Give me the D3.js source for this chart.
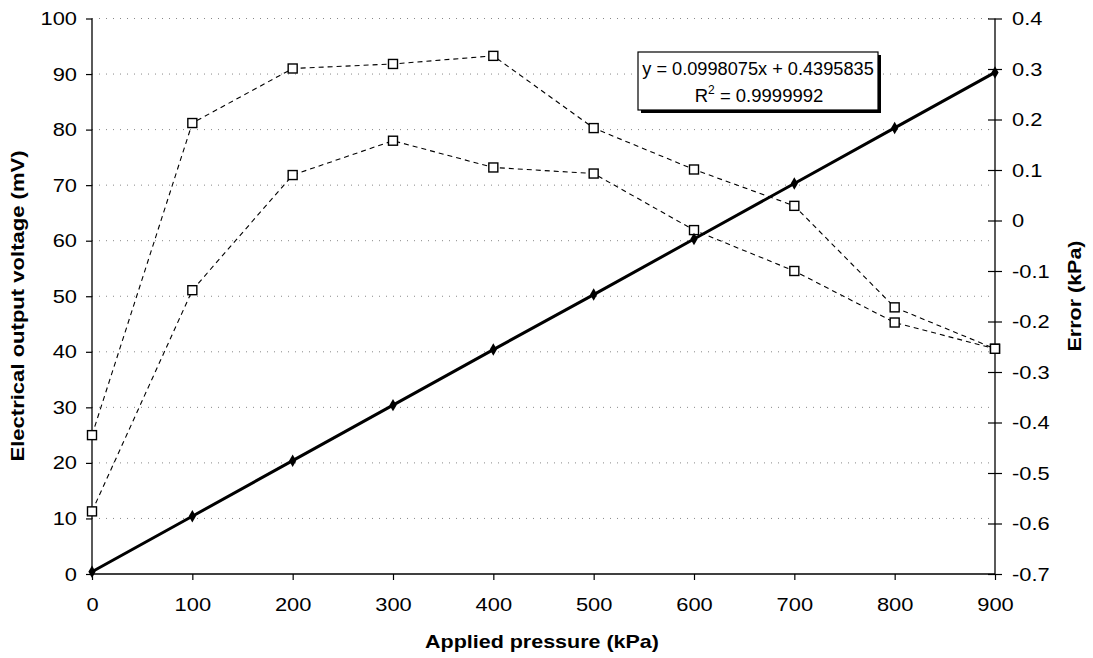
<!DOCTYPE html>
<html>
<head>
<meta charset="utf-8">
<script src="https://cdn.jsdelivr.net/npm/d3@7"></script>
<style>
  body { margin: 0; background: #fff; }
  text { font-family: "Liberation Sans", Arial, sans-serif; fill: #000; }
</style>
</head>
<body>
<svg id="chart" width="1093" height="658"></svg>
<script>
// pressure steps (kPa)
var pressure = [0, 100, 200, 300, 400, 500, 600, 700, 800, 900];
// output voltage (mV), left axis
var voltage = [0.4, 10.4, 20.4, 30.4, 40.4, 50.3, 60.3, 70.3, 80.3, 90.3];
// error series (kPa), right axis
var errorA = [-0.425, 0.193, 0.301, 0.310, 0.326, 0.183, 0.101, 0.029, -0.172, -0.254];
var errorB = [-0.576, -0.138, 0.090, 0.158, 0.105, 0.093, -0.019, -0.100, -0.202, -0.254];

var xTicks = [0, 100, 200, 300, 400, 500, 600, 700, 800, 900];
var yTicks = [0, 10, 20, 30, 40, 50, 60, 70, 80, 90, 100];
var y2Ticks = [0.4, 0.3, 0.2, 0.1, 0, -0.1, -0.2, -0.3, -0.4, -0.5, -0.6, -0.7];

var fitLabel = "y = 0.0998075x + 0.4395835";
var r2Label = "0.9999992";

// the original lettering is a bit wider than Liberation Sans, stretch it
function stretch(sel, k) {
    sel.each(function() {
        var w = this.getComputedTextLength();
        d3.select(this).attr("textLength", w * k).attr("lengthAdjust", "spacingAndGlyphs");
    });
}

!function() {
    var svg = d3.select("#chart");
    var pLeft = 92, pRight = 995, pTop = 18.5, pBottom = 574;

    var fx = d3.scaleLinear().domain([0, 900]).range([pLeft, pRight]);
    var fy = d3.scaleLinear().domain([0, 100]).range([pBottom, pTop]);
    var fy2 = d3.scaleLinear().domain([-0.7, 0.4]).range([pBottom, pTop]);

    // gridlines
    svg.append("g").selectAll("line")
        .data(yTicks.filter(function(d) { return d > 0; })).enter()
        .append("line")
          .attr("x1", pLeft).attr("x2", pRight)
          .attr("y1", function(d) { return fy(d); })
          .attr("y2", function(d) { return fy(d); })
          .attr("stroke", "#888")
          .attr("stroke-width", 1)
          .attr("stroke-dasharray", "1,6");

    // axes
    var xAxis = svg.append("g")
        .attr("transform", "translate(0," + pBottom + ")")
        .call(d3.axisBottom(fx).tickValues(xTicks).tickSize(6).tickPadding(18).tickFormat(d3.format("d")));
    var yAxis = svg.append("g")
        .attr("transform", "translate(" + pLeft + ",0)")
        .call(d3.axisLeft(fy).tickValues(yTicks).tickSize(6).tickPadding(9).tickFormat(d3.format("d")));
    var y2Axis = svg.append("g")
        .attr("transform", "translate(" + pRight + ",0)")
        .call(d3.axisRight(fy2).tickValues(y2Ticks).tickSize(7).tickPadding(10)
              .tickFormat(function(d) { return Math.abs(d) < 1e-9 ? "0" : d.toFixed(1); }));
    y2Axis.selectAll(".tick line").attr("x1", -7);

    [xAxis, yAxis, y2Axis].forEach(function(a) {
        a.attr("font-size", 19).attr("font-family", "Liberation Sans, Arial, sans-serif");
        a.selectAll("path.domain").attr("stroke", "#000").attr("stroke-width", 1.3);
        a.selectAll(".tick line").attr("stroke", "#000").attr("stroke-width", 1.2);
        a.selectAll(".tick text").attr("fill", "#000");
        stretch(a.selectAll(".tick text"), 1.15);
    });
    yAxis.select("path.domain").attr("d", "M0," + pTop + "V" + pBottom);
    xAxis.select("path.domain").attr("d", "M" + pLeft + ",0H" + pRight);
    y2Axis.select("path.domain").attr("d", "M0," + pTop + "V" + pBottom);

    // error series, dashed with open squares
    function drawError(vals) {
        var pts = pressure.map(function(p, i) { return [p, vals[i]]; });
        svg.append("path")
            .datum(pts)
            .attr("fill", "none")
            .attr("stroke", "#000")
            .attr("stroke-width", 1.1)
            .attr("stroke-dasharray", "5,4")
            .attr("d", d3.line().x(function(d) { return fx(d[0]); }).y(function(d) { return fy2(d[1]); }));
        svg.append("g").selectAll("rect")
            .data(pts).enter()
            .append("rect")
              .attr("x", function(d) { return fx(d[0]) - 4.5; })
              .attr("y", function(d) { return fy2(d[1]) - 4.5; })
              .attr("width", 9).attr("height", 9)
              .attr("fill", "#fff")
              .attr("stroke", "#000")
              .attr("stroke-width", 1.4);
    }
    drawError(errorA);
    drawError(errorB);

    // voltage line with diamonds
    var vPts = pressure.map(function(p, i) { return [p, voltage[i]]; });
    svg.append("path")
        .datum(vPts)
        .attr("fill", "none")
        .attr("stroke", "#000")
        .attr("stroke-width", 3)
        .attr("d", d3.line().x(function(d) { return fx(d[0]); }).y(function(d) { return fy(d[1]); }));
    svg.append("g").selectAll("path")
        .data(vPts).enter()
        .append("path")
          .attr("transform", function(d) { return "translate(" + fx(d[0]) + "," + fy(d[1]) + ")"; })
          .attr("d", d3.symbol().type(d3.symbolDiamond).size(45))
          .attr("fill", "#000");

    // trendline label box
    var bx = 638, by = 52, bw = 240, bh = 58;
    svg.append("rect").attr("x", bx + 3).attr("y", by + 3).attr("width", bw).attr("height", bh).attr("fill", "#000");
    svg.append("rect").attr("x", bx).attr("y", by).attr("width", bw).attr("height", bh)
        .attr("fill", "#fff").attr("stroke", "#000").attr("stroke-width", 1.2);
    var fit = svg.append("text").attr("x", bx + bw / 2).attr("y", by + 23).attr("text-anchor", "middle")
        .attr("font-size", 18).text(fitLabel);
    stretch(fit, 1.01);
    var r2 = svg.append("text").attr("x", bx + bw / 2 + 1).attr("y", by + 50).attr("text-anchor", "middle")
        .attr("font-size", 18.5);
    r2.append("tspan").text("R");
    r2.append("tspan").attr("font-size", 12).attr("dy", -8).text("2");
    r2.append("tspan").attr("dy", 8).text(" = " + r2Label);

    // axis titles
    var xt = svg.append("text").attr("x", 542).attr("y", 648).attr("text-anchor", "middle")
        .attr("font-size", 19).attr("font-weight", "bold").text("Applied pressure (kPa)");
    stretch(xt, 1.13);
    var yt = svg.append("text").attr("transform", "translate(24,306) rotate(-90)").attr("text-anchor", "middle")
        .attr("font-size", 19).attr("font-weight", "bold").text("Electrical output voltage (mV)");
    stretch(yt, 1.16);
    var y2t = svg.append("text").attr("transform", "translate(1081,296) rotate(-90)").attr("text-anchor", "middle")
        .attr("font-size", 19).attr("font-weight", "bold").text("Error (kPa)");
    stretch(y2t, 1.13);
}();
</script>
</body>
</html>
